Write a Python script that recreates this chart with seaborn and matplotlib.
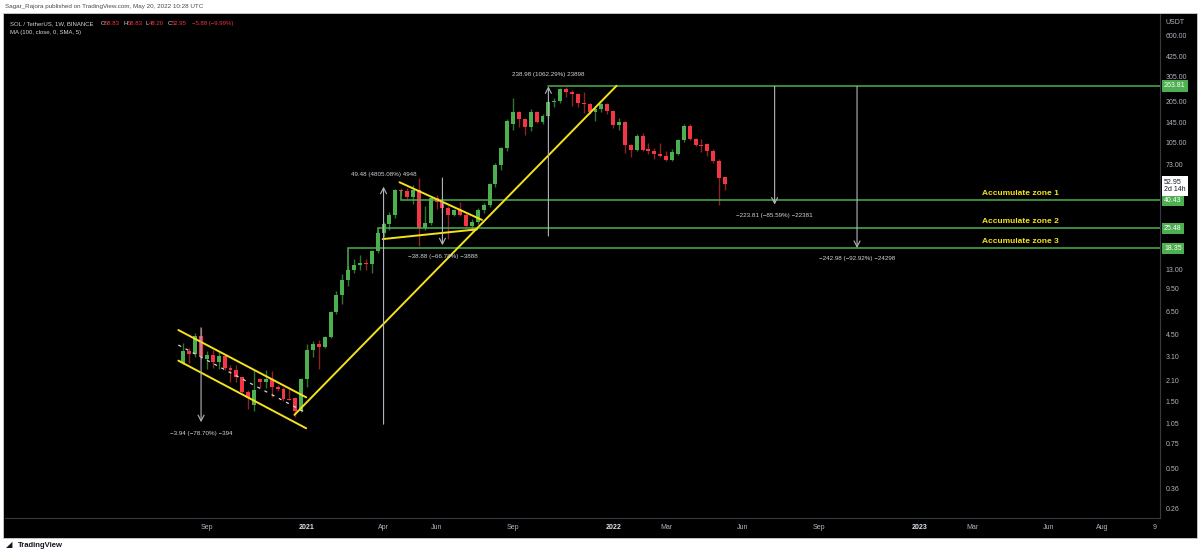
import numpy as np
import pandas as pd
import seaborn as sns
import matplotlib
matplotlib.use('Agg')
import matplotlib.pyplot as plt
import matplotlib.dates as mdates
from matplotlib.patches import Rectangle
from matplotlib.ticker import NullLocator, FixedLocator, FixedFormatter
from matplotlib.transforms import blended_transform_factory

# SOL / TetherUS weekly candles (Binance)
first_week = '2020-08-10'
opens = [2.82, 3.40, 3.25, 4.40, 3.00, 3.20, 2.85, 3.15, 2.60, 2.50,
         2.22, 1.75, 1.40, 2.15, 2.05, 2.15, 1.90, 1.82, 1.56, 1.58,
         1.28, 2.15, 3.45, 3.85, 3.65, 4.30, 6.50, 8.60, 10.9, 12.9,
         14.0, 14.4, 14.2, 17.5, 23.5, 27.5, 32.0, 48.0, 47.0, 43.0,
         47.5, 25.5, 28.0, 42.0, 39.0, 35.5, 32.0, 34.5, 32.0, 26.5,
         28.5, 34.5, 37.5, 53.0, 72.0, 95.0, 141, 173, 152, 135,
         173, 146, 161, 201, 205, 250, 238, 230, 198, 195,
         171, 180, 197, 175, 138, 145, 100, 92.5, 116, 93,
         91, 86, 84, 78, 87, 108, 137, 111, 100, 101,
         91, 77, 58.83]
highs = [3.9, 3.6, 4.6, 5.0, 3.4, 3.45, 3.35, 3.2, 2.7, 2.7,
         2.25, 1.8, 2.5, 2.2, 2.5, 2.45, 1.95, 1.88, 1.82, 1.6,
         2.2, 3.85, 4.0, 4.1, 4.35, 6.6, 9.2, 12.0, 13.8, 15.4,
         16.4, 15.5, 18, 25, 28.5, 33.5, 49, 49.5, 49.5, 52,
         58, 37, 43, 44, 40, 37, 35, 39, 33, 29.5,
         35.5, 38.5, 54, 75, 97, 152, 215, 175, 155, 180,
         175, 165, 210, 215, 255, 258, 248, 235, 240, 200,
         185, 200, 200, 178, 155, 148, 102, 120, 122, 103,
         95, 103, 90, 93, 111, 142, 140, 113, 111, 103,
         93, 79, 58.83]
lows = [2.75, 2.8, 3.1, 3.0, 2.55, 2.6, 2.55, 2.5, 2.05, 2.05,
        1.72, 1.32, 1.27, 1.85, 1.85, 1.6, 1.78, 1.5, 1.52, 1.15,
        1.25, 1.9, 3.1, 2.55, 3.6, 4.2, 6.3, 7.4, 10.0, 12.2,
        12.9, 12.9, 12.2, 17, 22, 25, 30, 44, 41.5, 38,
        19.2, 25, 27, 35, 33, 21.5, 31, 31, 26, 24.5,
        27.5, 33, 36.5, 50, 66, 90, 128, 135, 118, 125,
        143, 140, 155, 185, 198, 219, 190, 185, 170, 165,
        148, 172, 167, 133, 128, 88, 82, 90, 90, 86,
        79, 82, 77, 77, 85, 105, 108, 99, 89, 83,
        75, 37.4, 48.2]
closes = [3.4, 3.25, 4.4, 3.1, 3.2, 2.85, 3.15, 2.6, 2.5, 2.22,
          1.75, 1.58, 1.8, 2.05, 2.15, 1.9, 1.82, 1.56, 1.54, 1.28,
          2.15, 3.45, 3.85, 3.65, 4.3, 6.5, 8.6, 10.9, 12.9, 14.0,
          14.4, 14.2, 17.5, 23.5, 27.5, 32, 48, 47, 43, 47.5,
          25.5, 28, 42, 39, 35.5, 32, 34.5, 32, 26.5, 28.5,
          34.5, 37.5, 53, 72, 95, 148, 173, 152, 135, 173,
          146, 161, 201, 205, 250, 238, 230, 198, 195, 171,
          180, 197, 175, 138, 145, 100, 92.5, 116, 92.5, 91,
          86, 84, 78, 89, 108, 137, 111, 100, 99, 91,
          77, 58.3, 52.95]

# drawn trend lines: (date, price)
channel_upper = [('2020-08-04', 4.82), ('2021-01-03', 1.60)]
channel_lower = [('2020-08-04', 2.92), ('2021-01-03', 0.963)]
channel_mid = [('2020-08-04', 3.77), ('2021-01-03', 1.24)]
trend_up = [('2020-12-20', 1.20), ('2022-01-07', 263.81)]
pennant_top = [('2021-04-24', 54.3), ('2021-07-31', 29.3)]
pennant_bottom = [('2021-04-04', 21.4), ('2021-07-25', 25.1)]

# horizontal levels
zone_levels = [263.81, 40.43, 25.48, 18.35]
zone_starts = ['2021-10-18', '2021-04-26', '2021-03-29', '2021-02-22']
zone_anchor = [263.81, 47.0, 23.5, 12.9]
zone_names = ['', 'Accumulate zone 1', 'Accumulate zone 2', 'Accumulate zone 3']
zone_text_date = '2023-03-17'

# price range measurements
measure_dates = ['2020-08-31', '2021-04-05', '2021-06-14', '2021-10-18', '2022-07-14', '2022-10-20']
measure_from = [5.00, 1.0297, 58.22, 22.50, 261.48, 261.48]
measure_to = [1.065, 50.51, 19.34, 261.48, 37.67, 18.50]
measure_text = ['\u22123.94 (\u221278.70%) \u2212394', '49.48 (4805.08%) 4948',
                '\u221238.88 (\u221266.78%) \u22123888', '238.98 (1062.29%) 23898',
                '\u2212223.81 (\u221285.59%) \u221222381', '\u2212242.98 (\u221292.92%) \u221224298']

price_ticks = [600, 425, 305, 205, 145, 105, 73, 13, 9.5, 6.5,
               4.5, 3.1, 2.1, 1.5, 1.05, 0.75, 0.5, 0.36, 0.26]
time_ticks = ['2020-09-07', '2021-01-04', '2021-04-05', '2021-06-07', '2021-09-06',
              '2022-01-03', '2022-03-07', '2022-06-06', '2022-09-05', '2023-01-02',
              '2023-03-06', '2023-06-05', '2023-08-07', '2023-10-09']
time_labels = ['Sep', '2021', 'Apr', 'Jun', 'Sep', '2022', 'Mar', 'Jun', 'Sep',
               '2023', 'Mar', 'Jun', 'Aug', '9']

df = pd.DataFrame({'date': pd.date_range(first_week, periods=len(opens), freq='7D'),
                   'open': opens, 'high': highs, 'low': lows, 'close': closes})
df['x'] = mdates.date2num(df['date'])
df['up'] = df['close'] >= df['open']

GREEN, RED = '#4caf50', '#f23645'
GREEN_WICK, RED_WICK = '#2e7431', '#8e2027'
YELLOW = '#f5e21b'
GRAY = '#b2b5be'

sns.set_theme(style='dark', rc={'axes.facecolor': 'black', 'figure.facecolor': 'white'})
plt.rcParams['font.family'] = ['Liberation Sans', 'DejaVu Sans']

W, H = 1200, 555
fig = plt.figure(figsize=(12, 5.55), dpi=100)
fx = lambda px: px / W
fy = lambda py: 1 - py / H

fig.patches.append(Rectangle((fx(3), fy(538)), fx(1197) - fx(3), fy(13) - fy(538),
                             transform=fig.transFigure, facecolor='black',
                             edgecolor='#cfcfcf', lw=0.6, zorder=-5))
ax = fig.add_axes([fx(5), fy(518), fx(1160) - fx(5), fy(14) - fy(518)])
ax.set_facecolor('black')
ax.set_yscale('log')

# candles
body_lo = np.minimum(df['open'], df['close'])
body_hi = np.maximum(np.maximum(df['open'], df['close']), body_lo * 1.018)
wick_cols = np.where(df['up'], GREEN_WICK, RED_WICK)
body_cols = np.where(df['up'], GREEN, RED)
ax.vlines(df['x'], df['low'], df['high'], colors=wick_cols, lw=1.0, zorder=3)
ax.bar(df['x'], body_hi - body_lo, bottom=body_lo, width=4.7, color=body_cols,
       edgecolor='none', zorder=4)


def draw_line(pts, **kw):
    xs = [mdates.date2num(pd.Timestamp(d)) for d, _ in pts]
    ys = [p for _, p in pts]
    sns.lineplot(x=xs, y=ys, ax=ax, estimator=None, sort=False, **kw)


for seg in [channel_upper, channel_lower, trend_up, pennant_top, pennant_bottom]:
    draw_line(seg, color=YELLOW, lw=1.4, zorder=6)
draw_line(channel_mid, color='#d8d8d8', lw=0.9, dashes=(2.5, 4), zorder=6)

x_right = mdates.date2num(pd.Timestamp(first_week)) + (1160 - 183.4) / 0.841
for lvl, start, anc in zip(zone_levels, zone_starts, zone_anchor):
    xs = mdates.date2num(pd.Timestamp(start))
    ax.plot([xs, xs, x_right], [anc, lvl, lvl], color=GREEN, lw=1.1, zorder=5,
            solid_joinstyle='miter')

for d, p0, p1, txt in zip(measure_dates, measure_from, measure_to, measure_text):
    xm = mdates.date2num(pd.Timestamp(d))
    ax.annotate('', xy=(xm, p1), xytext=(xm, p0),
                arrowprops=dict(arrowstyle='->,head_length=0.35,head_width=0.18',
                                color=GRAY, lw=0.8, shrinkA=0, shrinkB=0), zorder=7)
    off = -11 if p1 < p0 else 12
    ax.annotate(txt, xy=(xm, p1), xytext=(0, off), textcoords='offset pixels',
                ha='center', va='center', fontsize=4.5, color='#d1d4dc', zorder=8)

xz = mdates.date2num(pd.Timestamp(zone_text_date))
for lvl, name in zip(zone_levels, zone_names):
    if name:
        ax.annotate(name, xy=(xz, lvl), xytext=(0, 3), textcoords='offset pixels',
                    ha='left', va='bottom', fontsize=6, fontweight='bold',
                    color=YELLOW, zorder=8)

# axes styling
base = mdates.date2num(pd.Timestamp(first_week))
ax.set_xlim(base - (183.4 - 5) / 0.841, x_right)
ax.set_ylim(0.2214, 856)
ax.set_xlabel('')
ax.set_ylabel('')
ax.grid(False)
for side in ['left', 'top']:
    ax.spines[side].set_visible(False)
for side in ['right', 'bottom']:
    ax.spines[side].set_visible(True)
    ax.spines[side].set_color('#363a45')
    ax.spines[side].set_linewidth(0.8)

ax.yaxis.tick_right()
ax.yaxis.set_major_locator(FixedLocator(price_ticks))
ax.yaxis.set_major_formatter(FixedFormatter(['%.2f' % t for t in price_ticks]))
ax.yaxis.set_minor_locator(NullLocator())
ax.tick_params(axis='y', length=0, pad=4, labelsize=5, labelcolor=GRAY)

ax.xaxis.set_major_locator(FixedLocator([mdates.date2num(pd.Timestamp(t)) for t in time_ticks]))
ax.xaxis.set_major_formatter(FixedFormatter(time_labels))
ax.xaxis.set_minor_locator(NullLocator())
ax.tick_params(axis='x', length=0, pad=4, labelsize=5, labelcolor=GRAY)
for lab in ax.get_xticklabels():
    if lab.get_text().isdigit() and len(lab.get_text()) == 4:
        lab.set_fontweight('bold')
        lab.set_color('#e0e3eb')

# price axis boxes
btr = blended_transform_factory(ax.transAxes, ax.transData)
for lvl in zone_levels:
    ax.annotate('%.2f' % lvl, xy=(1, lvl), xycoords=btr, xytext=(4, 0),
                textcoords='offset pixels', ha='left', va='center', fontsize=5,
                color='white', annotation_clip=False, zorder=10,
                bbox=dict(boxstyle='square,pad=0.35', fc=GREEN, ec='none'))
ax.annotate('%.2f\n2d 14h' % closes[-1], xy=(1, closes[-1]), xycoords=btr,
            xytext=(4, 5), textcoords='offset pixels', ha='left', va='top',
            fontsize=5, color='#131722', linespacing=1.1, annotation_clip=False,
            zorder=10, bbox=dict(boxstyle='square,pad=0.35', fc='white', ec='none'))

# header and legend
fig.text(fx(5), fy(6.5), 'Sagar_Rajora published on TradingView.com, May 20, 2022 10:28 UTC',
         fontsize=4.5, color='#4a4a4a', va='center')
legend_bits = [('SOL / TetherUS, 1W, BINANCE', 10, '#d1d4dc'), ('O', 100.5, '#d1d4dc'),
               ('58.83', 104.5, RED), ('H', 124, '#d1d4dc'), ('58.83', 128, RED),
               ('L', 146, '#d1d4dc'), ('48.20', 149, RED), ('C', 168, '#d1d4dc'),
               ('52.95', 172, RED), ('\u22125.88 (\u22129.99%)', 192, RED)]
for txt, px, col in legend_bits:
    fig.text(fx(px), fy(23.3), txt, fontsize=4.3, color=col, va='center')
fig.text(fx(10), fy(32.7), 'MA (100, close, 0, SMA, 5)', fontsize=4.3, color='#d1d4dc', va='center')
fig.text(fx(1165), fy(22.5), 'USDT', fontsize=5, color=GRAY, va='center')
fig.text(fx(18), fy(545.5), 'TradingView', fontsize=5.5, color='#131722',
         fontweight='bold', va='center')
fig.text(fx(6), fy(545.5), '\u25e2', fontsize=6, color='#131722', va='center')

fig.savefig('out.png', dpi=100, facecolor='white')
